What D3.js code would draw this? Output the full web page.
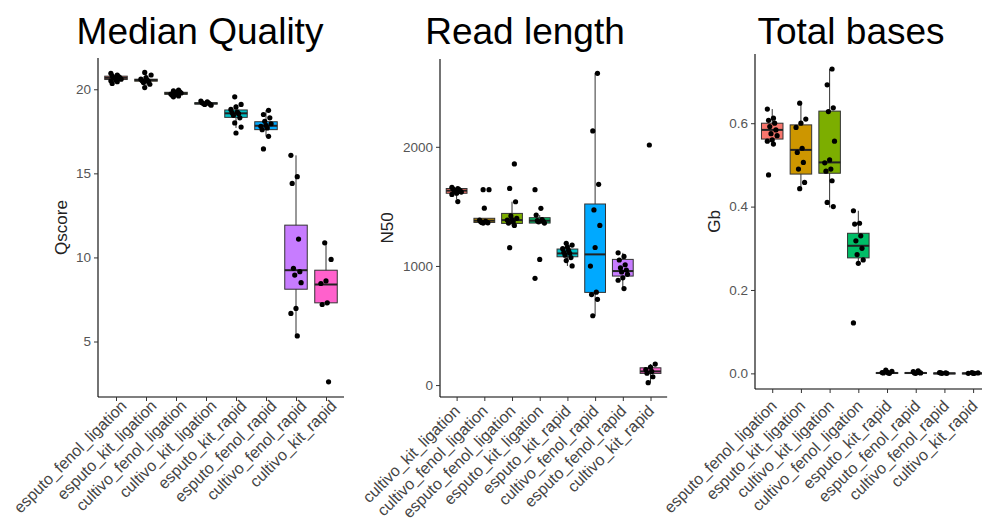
<!DOCTYPE html>
<html lang="en">
<head>
<meta charset="UTF-8">
<title>Median Quality / Read length / Total bases</title>
<style>
  body { margin: 0; background: #fff; }
  text { font-family: "Liberation Sans", Arial, sans-serif; }
</style>
</head>
<body>
<script src="https://cdn.jsdelivr.net/npm/d3@7/dist/d3.min.js"></script>
<script>
// ---- data ----
var catsQ = ["esputo_fenol_ligation", "esputo_kit_ligation", "cultivo_fenol_ligation", "cultivo_kit_ligation",
             "esputo_kit_rapid", "esputo_fenol_rapid", "cultivo_fenol_rapid", "cultivo_kit_rapid"];
var catsN = ["cultivo_kit_ligation", "cultivo_fenol_ligation", "esputo_fenol_ligation", "esputo_kit_ligation",
             "esputo_kit_rapid", "cultivo_fenol_rapid", "esputo_fenol_rapid", "cultivo_kit_rapid"];
var catsG = ["esputo_fenol_ligation", "esputo_kit_ligation", "cultivo_kit_ligation", "cultivo_fenol_ligation",
             "esputo_kit_rapid", "esputo_fenol_rapid", "cultivo_fenol_rapid", "cultivo_kit_rapid"];

// box summaries: [lower whisker, q1, median, q3, upper whisker]
var boxQ = [
  [20.40, 20.58, 20.68, 20.78, 20.95],
  [20.10, 20.48, 20.55, 20.60, 21.00],
  [19.55, 19.70, 19.76, 19.82, 19.95],
  [19.05, 19.12, 19.16, 19.20, 19.30],
  [17.70, 18.33, 18.57, 18.77, 19.10],
  [17.20, 17.60, 17.83, 18.07, 18.75],
  [5.33, 8.11, 9.24, 11.92, 16.07],
  [7.15, 7.30, 8.39, 9.24, 10.87]
];
var ptsQ = [
  [20.95, 20.85, 20.8, 20.75, 20.7, 20.7, 20.65, 20.6, 20.55, 20.5, 20.45, 20.35],
  [21.0, 20.85, 20.7, 20.6, 20.55, 20.5, 20.45, 20.4, 20.3, 20.1],
  [19.95, 19.9, 19.85, 19.8, 19.78, 19.75, 19.72, 19.7, 19.65, 19.6, 19.55],
  [19.3, 19.25, 19.2, 19.18, 19.15, 19.12, 19.1, 19.05],
  [19.55, 19.1, 18.95, 18.8, 18.65, 18.6, 18.55, 18.45, 18.3, 18.0, 17.75, 17.4],
  [18.75, 18.5, 18.3, 18.1, 17.95, 17.85, 17.8, 17.7, 17.6, 17.2, 16.45],
  [16.07, 14.8, 14.4, 11.09, 9.35, 9.15, 8.95, 8.5, 6.97, 6.67, 5.33],
  [10.87, 9.88, 8.6, 8.45, 7.3, 7.2, 2.6]
];

var boxN = [
  [1560, 1610, 1632, 1650, 1660],
  [1360, 1365, 1380, 1400, 1400],
  [1340, 1357, 1385, 1441, 1539],
  [1357, 1360, 1380, 1405, 1427],
  [1000, 1077, 1105, 1142, 1190],
  [582, 778, 1097, 1520, 2617],
  [810, 915, 957, 1055, 1110],
  [20, 98, 115, 145, 176]
];
var ptsN = [
  [1660, 1650, 1645, 1640, 1635, 1630, 1625, 1620, 1610, 1600, 1540],
  [1640, 1640, 1485, 1385, 1375, 1370, 1368, 1365, 1362, 1360],
  [1856, 1651, 1539, 1420, 1400, 1390, 1385, 1370, 1360, 1340, 1153],
  [1640, 1484, 1427, 1390, 1380, 1375, 1370, 1360, 1055, 896],
  [1190, 1175, 1160, 1145, 1130, 1115, 1105, 1090, 1070, 1045, 1000],
  [2617, 2133, 1685, 1470, 1340, 1155, 999, 780, 760, 720, 582],
  [1110, 1080, 1050, 1010, 985, 965, 950, 930, 900, 880, 810],
  [2015, 176, 150, 130, 115, 100, 70, 20]
];

var boxG = [
  [0.550, 0.562, 0.584, 0.600, 0.634],
  [0.443, 0.478, 0.536, 0.596, 0.648],
  [0.398, 0.480, 0.506, 0.629, 0.730],
  [0.264, 0.277, 0.306, 0.336, 0.390],
  [0.000, 0.000, 0.001, 0.002, 0.004],
  [0.000, 0.000, 0.001, 0.002, 0.004],
  [0.000, 0.000, 0.000, 0.001, 0.001],
  [0.000, 0.000, 0.000, 0.001, 0.001]
];
var ptsG = [
  [0.634, 0.612, 0.607, 0.600, 0.592, 0.584, 0.575, 0.570, 0.560, 0.557, 0.550, 0.476],
  [0.648, 0.61, 0.60, 0.59, 0.54, 0.53, 0.506, 0.49, 0.458, 0.443],
  [0.730, 0.692, 0.637, 0.628, 0.557, 0.512, 0.505, 0.49, 0.485, 0.462, 0.41, 0.40],
  [0.390, 0.360, 0.358, 0.330, 0.318, 0.300, 0.285, 0.272, 0.264, 0.121],
  [0.008, 0.005, 0.003, 0.002, 0.001, 0.001, 0.000],
  [0.006, 0.004, 0.002, 0.001, 0.001, 0.000],
  [0.002, 0.001, 0.001, 0.000, 0.000],
  [0.002, 0.001, 0.000, 0.000, 0.000]
];

var ticksQ = [5, 10, 15, 20];
var ticksN = [0, 1000, 2000];
var ticksG = [0, 0.2, 0.4, 0.6];

var palette = ["#F8766D", "#CD9600", "#7CAE00", "#00BE67", "#00BFC4", "#00A9FF", "#C77CFF", "#FF61CC"];

// ---- drawing ----
var width = 982, height = 520;
var svg = d3.select("body").append("svg")
  .attr("width", width)
  .attr("height", height);

var color = d3.scaleOrdinal().domain(d3.range(8)).range(palette);

function panel(opt) {
  var g = svg.append("g");
  var x = d3.scaleLinear().domain([0.4, 8.6]).range([opt.left, opt.left + 8.2 * opt.step]);
  var y = d3.scaleLinear().domain(opt.ydom).range([opt.bottom, opt.top]);
  var bw = 0.75 * opt.step;

  // title
  g.append("text")
    .attr("x", opt.titleX).attr("y", 44)
    .attr("text-anchor", "middle")
    .attr("font-size", 37)
    .attr("fill", "#000")
    .text(opt.title);

  // y axis title
  g.append("text")
    .attr("transform", "translate(" + opt.ylabX + "," + ((opt.top + opt.bottom) / 2) + ") rotate(-90)")
    .attr("text-anchor", "middle")
    .attr("font-size", 17)
    .attr("fill", "#222")
    .text(opt.ylab);

  // boxes
  var boxes = g.selectAll(".box").data(opt.box).enter().append("g");
  boxes.append("line")
    .attr("x1", function(d, i) { return x(i + 1); })
    .attr("x2", function(d, i) { return x(i + 1); })
    .attr("y1", function(d) { return y(d[0]); })
    .attr("y2", function(d) { return y(d[4]); })
    .attr("stroke", "#333").attr("stroke-width", 1);
  boxes.append("rect")
    .attr("x", function(d, i) { return x(i + 1) - bw / 2; })
    .attr("width", bw)
    .attr("y", function(d) { return y(d[3]); })
    .attr("height", function(d) { return Math.max(1, y(d[1]) - y(d[3])); })
    .attr("fill", function(d, i) { return color(i); })
    .attr("stroke", "#333").attr("stroke-width", 1);
  boxes.append("line")
    .attr("x1", function(d, i) { return x(i + 1) - bw / 2; })
    .attr("x2", function(d, i) { return x(i + 1) + bw / 2; })
    .attr("y1", function(d) { return y(d[2]); })
    .attr("y2", function(d) { return y(d[2]); })
    .attr("stroke", "#222").attr("stroke-width", 2);

  // jittered points
  opt.pts.forEach(function(arr, gi) {
    g.selectAll(null).data(arr).enter().append("circle")
      .attr("cx", function(d, i) { return x(gi + 1 + (((i * 5 + gi * 3) % 9) - 4) / 4 * 0.17); })
      .attr("cy", function(d) { return y(d); })
      .attr("r", 2.6)
      .attr("fill", "#000");
  });

  // axes
  var yAxis = g.append("g")
    .attr("transform", "translate(" + opt.left + ",0)")
    .call(d3.axisLeft(y).tickValues(opt.ticks).tickSize(4).tickPadding(3).tickFormat(opt.fmt));
  yAxis.select(".domain").attr("d", "M0," + opt.bottom + "V" + opt.top).attr("stroke", "#000").attr("stroke-width", 1.1);
  yAxis.selectAll(".tick line").attr("stroke", "#333");
  yAxis.selectAll(".tick text").attr("font-size", 13.5).attr("fill", "#555").attr("font-family", null);

  var xAxis = g.append("g")
    .attr("transform", "translate(0," + opt.bottom + ")")
    .call(d3.axisBottom(x).tickValues(d3.range(1, 9)).tickSize(4)
      .tickFormat(function(d) { return opt.cats[d - 1]; }));
  xAxis.select(".domain").attr("d", "M" + opt.left + ",0H" + (opt.left + 8.2 * opt.step)).attr("stroke", "#000").attr("stroke-width", 1.1);
  xAxis.selectAll(".tick line").attr("stroke", "#333");
  xAxis.selectAll(".tick text")
    .attr("font-size", 16).attr("fill", "#444").attr("font-family", null)
    .attr("text-anchor", "end")
    .attr("y", 0).attr("dy", 0)
    .attr("transform", "translate(" + opt.labDx + "," + opt.labDy + ") rotate(-45)");
}

panel({ title: "Median Quality", titleX: 200, ylab: "Qscore", ylabX: 67,
  left: 98, step: 30, top: 58, bottom: 397, ydom: [1.7, 21.86],
  labDx: 11, labDy: 10,
  cats: catsQ, box: boxQ, pts: ptsQ, ticks: ticksQ, fmt: d3.format("d") });

panel({ title: "Read length", titleX: 525, ylab: "N50", ylabX: 393,
  left: 440, step: 27.7, top: 59, bottom: 397, ydom: [-100, 2737],
  labDx: 4, labDy: 15,
  cats: catsN, box: boxN, pts: ptsN, ticks: ticksN, fmt: d3.format("d") });

panel({ title: "Total bases", titleX: 851, ylab: "Gb", ylabX: 720,
  left: 755, step: 28.7, top: 54, bottom: 389, ydom: [-0.0375, 0.766],
  labDx: 5, labDy: 18,
  cats: catsG, box: boxG, pts: ptsG, ticks: ticksG, fmt: d3.format(".1f") });
</script>
</body>
</html>
